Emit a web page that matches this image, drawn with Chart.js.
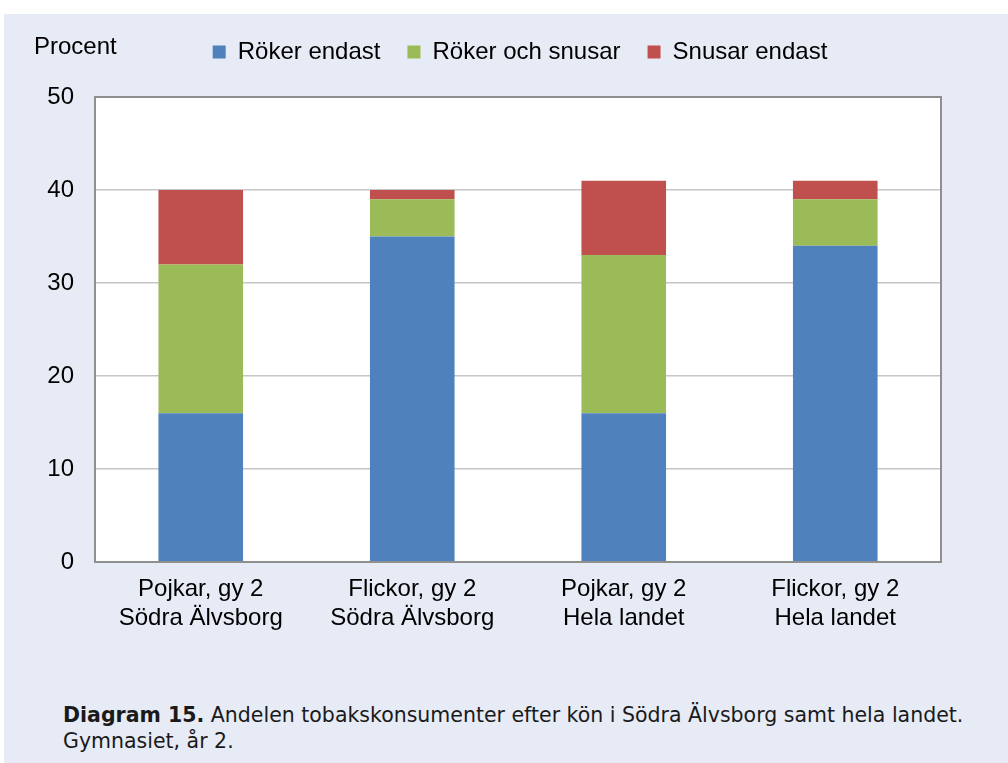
<!DOCTYPE html>
<html>
<head>
<meta charset="utf-8">
<script src="https://cdn.jsdelivr.net/npm/chart.js@4.4.0/dist/chart.umd.min.js"></script>
<style>
html,body{margin:0;padding:0;background:#ffffff;}
body{width:1008px;height:763px;position:relative;overflow:hidden;}
#panel{position:absolute;left:4px;top:14px;right:0;bottom:0;background:#E7EBF5;}
#wrap{position:absolute;left:0;top:0;width:1008px;height:680px;}
#caption{position:absolute;left:63px;top:702px;font-family:"DejaVu Sans",sans-serif;font-size:20.5px;line-height:26px;color:#1a1a1a;white-space:nowrap;}
</style>
</head>
<body>
<div id="panel"></div>
<div id="wrap"><canvas id="c" width="1008" height="680"></canvas></div>
<div id="caption"><b>Diagram 15.</b> Andelen tobakskonsumenter efter kön i Södra Älvsborg samt hela landet.<br>Gymnasiet, år 2.</div>
<script>
// ---- data ----
const categories = [
  ['Pojkar, gy 2', 'Södra Älvsborg'],
  ['Flickor, gy 2', 'Södra Älvsborg'],
  ['Pojkar, gy 2', 'Hela landet'],
  ['Flickor, gy 2', 'Hela landet']
];
const seriesNames = ['Röker endast', 'Röker och snusar', 'Snusar endast'];
const rokerEndast = [16, 35, 16, 34];
const rokerOchSnusar = [16, 4, 17, 5];
const snusarEndast = [8, 1, 8, 2];
const yTicks = [0, 10, 20, 30, 40, 50];
const yAxisTitle = 'Procent';

// ---- styling ----
const FONT = '"Liberation Sans", Arial, sans-serif';
const FS = 24;
const colors = ['#4F81BD', '#9BBB59', '#C0504D'];

const legendGap = {
  id: 'legendGap',
  beforeInit(chart) {
    const lg = chart.legend;
    if (!lg || lg._gapPatched) return;
    const f = lg.fit;
    lg.fit = function () { f.call(this); this.height += 23; };
    lg._gapPatched = true;
  },
  afterLayout(chart) {
    const lg = chart.legend;
    if (!lg) return;
    lg.left = chart.chartArea.left + 2;
    lg.right = chart.chartArea.right + 2;
    lg.width = lg.right - lg.left;
  }
};

const plotFrame = {
  id: 'plotFrame',
  beforeDraw(chart) {
    const {ctx, chartArea: a} = chart;
    ctx.save();
    ctx.fillStyle = '#ffffff';
    ctx.fillRect(a.left, a.top, a.right - a.left, a.bottom - a.top);
    ctx.restore();
  },
  afterDraw(chart) {
    const {ctx, chartArea: a} = chart;
    ctx.save();
    ctx.strokeStyle = '#8f8f8f';
    ctx.lineWidth = 2;
    ctx.strokeRect(a.left, a.top, a.right - a.left, a.bottom - a.top);
    ctx.fillStyle = '#000';
    ctx.font = FS + 'px ' + FONT;
    ctx.textBaseline = 'alphabetic';
    ctx.textAlign = 'left';
    ctx.fillText(yAxisTitle, 34, 54);
    ctx.restore();
  }
};

const seriesData = [rokerEndast, rokerOchSnusar, snusarEndast];

new Chart(document.getElementById('c'), {
  type: 'bar',
  data: {
    labels: categories,
    datasets: seriesNames.map((n, i) => ({
      label: n,
      data: seriesData[i],
      backgroundColor: colors[i],
      borderWidth: 0,
      barPercentage: 0.4,
      categoryPercentage: 1.0
    }))
  },
  options: {
    responsive: false,
    maintainAspectRatio: false,
    animation: false,
    devicePixelRatio: 1,
    layout: {padding: {top: 13, left: 0, right: 67, bottom: 0}},
    plugins: {
      tooltip: {enabled: false},
      legend: {
        position: 'top',
        labels: {
          boxWidth: 13,
          boxHeight: 13,
          padding: 27,
          color: '#000',
          font: {family: FONT, size: FS}
        }
      }
    },
    scales: {
      x: {
        stacked: true,
        offset: true,
        grid: {display: false, drawTicks: false},
        border: {display: false},
        ticks: {padding: 13, color: '#000', font: {family: FONT, size: FS}, maxRotation: 0, autoSkip: false},
        afterFit: s => { s.height = 118; }
      },
      y: {
        stacked: true,
        min: 0,
        max: 50,
        afterBuildTicks: s => { s.ticks = yTicks.map(v => ({value: v})); },
        afterFit: s => { s.width = 95; },
        grid: {color: '#c6c6c6', lineWidth: 1.5, drawTicks: false},
        border: {display: false},
        ticks: {padding: 21, color: '#000', font: {family: FONT, size: FS}}
      }
    }
  },
  plugins: [legendGap, plotFrame]
});
</script>
</body>
</html>
